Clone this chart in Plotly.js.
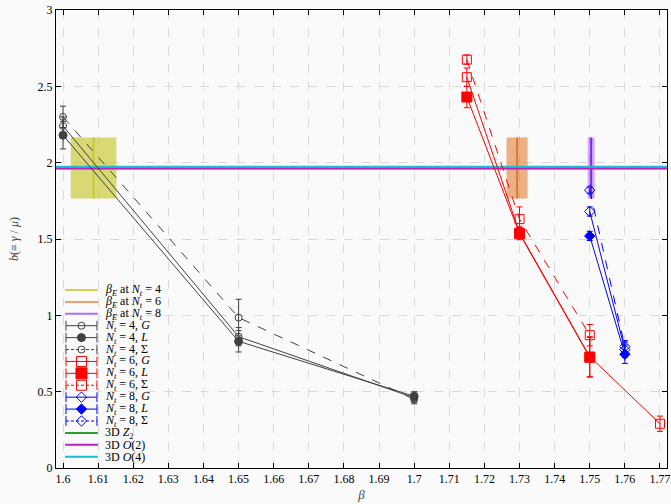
<!DOCTYPE html>
<html>
<head>
<meta charset="utf-8">
<script src="https://cdn.plot.ly/plotly-3.0.1.min.js"></script>
<style>html,body{margin:0;padding:0;background:#fafafa;}#plot{width:671px;height:504px;}</style>
</head>
<body>
<div id="plot"></div>
<script>
// ---- data ----
const beta4 = [1.60, 1.65, 1.70];
const b4G = [2.24, 0.86, 0.46];
const e4G = [0.06, 0.06, 0.03];
const b4L = [2.18, 0.83, 0.47];
const e4L = [0.09, 0.07, 0.03];
const b4S = [2.30, 0.985, 0.45];
const e4S = [0.07, 0.12, 0.03];

const beta6G = [1.715, 1.73, 1.75, 1.77];
const b6G = [2.56, 1.54, 0.73, 0.29];
const e6G = [0.06, 0.04, 0.13, 0.05];
const beta6 = [1.715, 1.73, 1.75];
const b6L = [2.43, 1.535, 0.725];
const e6L = [0.07, 0.04, 0.13];
const b6S = [2.675, 1.63, 0.87];
const e6S = [0.03, 0.08, 0.07];

const beta8 = [1.75, 1.76];
const b8G = [1.68, 0.775];
const e8G = [0.03, 0.05];
const b8L = [1.52, 0.745];
const e8L = [0.03, 0.06];
const b8S = [1.82, 0.795];
const e8S = [0.02, 0.04];

const betaE = [1.6087, 1.7293, 1.7504];
const betaEerr = [0.0065, 0.003, 0.001];
const bandLow = 1.765, bandHigh = 2.165;

const universality = [1.963, 1.962, 1.974]; // Z2, O(2), O(4)
const xRange = [1.598, 1.772];

const legendLabels = [
  '<i>β</i><sub><i>E</i></sub> at <i>N</i><sub><i>t</i></sub> = 4',
  '<i>β</i><sub><i>E</i></sub> at <i>N</i><sub><i>t</i></sub> = 6',
  '<i>β</i><sub><i>E</i></sub> at <i>N</i><sub><i>t</i></sub> = 8',
  '<i>N</i><sub><i>t</i></sub> = 4, <i>G</i>',
  '<i>N</i><sub><i>t</i></sub> = 4, <i>L</i>',
  '<i>N</i><sub><i>t</i></sub> = 4, Σ',
  '<i>N</i><sub><i>t</i></sub> = 6, <i>G</i>',
  '<i>N</i><sub><i>t</i></sub> = 6, <i>L</i>',
  '<i>N</i><sub><i>t</i></sub> = 6, Σ',
  '<i>N</i><sub><i>t</i></sub> = 8, <i>G</i>',
  '<i>N</i><sub><i>t</i></sub> = 8, <i>L</i>',
  '<i>N</i><sub><i>t</i></sub> = 8, Σ',
  '3D <i>Z</i><sub>2</sub>',
  '3D <i>O</i>(2)',
  '3D <i>O</i>(4)'
];

// ---- styles ----
const bandFill = ['rgba(195,195,35,0.62)', 'rgba(222,115,35,0.55)', 'rgba(165,95,240,0.5)'];
const bandLine = ['rgba(200,200,50,1)', 'rgba(225,120,50,1)', 'rgba(130,40,225,1)'];
const legBandLine = ['#d4d44c', '#f0a070', '#b070f0'];
const uniColor = ['#2ca02c', '#c020c0', '#17becf'];
const C4 = '#404040', C6 = '#ff0000', C8 = '#0000ff';

const traces = [];

// bands
betaE.forEach((c, i) => {
  const e = betaEerr[i];
  traces.push({x: [c - e, c + e, c + e, c - e, c - e], y: [bandLow, bandLow, bandHigh, bandHigh, bandLow],
    mode: 'lines', fill: 'toself', fillcolor: bandFill[i], line: {width: 0}, hoverinfo: 'skip', showlegend: false});
  traces.push({x: [c, c], y: [bandLow, bandHigh], mode: 'lines', line: {color: bandLine[i], width: 2}, showlegend: false});
});

// universality lines
universality.forEach((v, i) => {
  traces.push({x: xRange, y: [v, v], mode: 'lines', line: {color: uniColor[i], width: 2}, showlegend: false});
});

function series(x, y, err, color, symbol, size, dash) {
  return {x: x, y: y, mode: 'lines+markers', showlegend: false,
    line: {color: color, width: 1, dash: dash},
    marker: {symbol: symbol, size: size, color: color, line: {color: color, width: 1}},
    error_y: {type: 'data', array: err, visible: true, color: color, thickness: 1, width: 3}};
}
traces.push(series(beta4, b4G, e4G, C4, 'circle-open', 7, 'solid'));
traces.push(series(beta4, b4L, e4L, C4, 'circle', 8, 'solid'));
traces.push(series(beta4, b4S, e4S, C4, 'circle-open', 7, 'dash'));
traces.push(series(beta6G, b6G, e6G, C6, 'square-open', 9, 'solid'));
traces.push(series(beta6, b6L, e6L, C6, 'square', 10, 'solid'));
traces.push(series(beta6, b6S, e6S, C6, 'square-open', 9, 'dash'));
traces.push(series(beta8, b8G, e8G, C8, 'diamond-open', 8, 'solid'));
traces.push(series(beta8, b8L, e8L, C8, 'diamond', 8, 'solid'));
traces.push(series(beta8, b8S, e8S, C8, 'diamond-open', 8, 'dash'));

// ---- custom legend ----
const legSpec = [
  {type: 'line', color: legBandLine[0]}, {type: 'line', color: legBandLine[1]}, {type: 'line', color: legBandLine[2]},
  {type: 'err', color: C4, sym: 'circle-open', size: 7, dash: 'solid'},
  {type: 'err', color: C4, sym: 'circle', size: 8, dash: 'solid'},
  {type: 'err', color: C4, sym: 'circle-open', size: 7, dash: 'dash'},
  {type: 'err', color: C6, sym: 'square-open', size: 10, dash: 'solid'},
  {type: 'err', color: C6, sym: 'square', size: 11, dash: 'solid'},
  {type: 'err', color: C6, sym: 'square-open', size: 10, dash: 'dash'},
  {type: 'err', color: C8, sym: 'diamond-open', size: 8, dash: 'solid'},
  {type: 'err', color: C8, sym: 'diamond', size: 8, dash: 'solid'},
  {type: 'err', color: C8, sym: 'diamond-open', size: 8, dash: 'dash'},
  {type: 'line', color: uniColor[0]}, {type: 'line', color: uniColor[1]}, {type: 'line', color: uniColor[2]}
];
const annotations = [];
legSpec.forEach((s, i) => {
  if (s.type === 'line') {
    traces.push({x: [0, 1], y: [i, i], xaxis: 'x2', yaxis: 'y2', mode: 'lines', line: {color: s.color, width: 2}, showlegend: false, hoverinfo: 'skip'});
  } else {
    traces.push({x: [0.03, 0.97], y: [i, i], xaxis: 'x2', yaxis: 'y2', mode: 'lines+markers',
      line: {color: s.color, width: 1, dash: s.dash === 'dash' ? '3px,2px' : 'solid'},
      marker: {symbol: 'line-ns-open', size: 7, color: s.color, line: {color: s.color, width: 1}},
      showlegend: false, hoverinfo: 'skip'});
    traces.push({x: [0.5], y: [i], xaxis: 'x2', yaxis: 'y2', mode: 'markers',
      marker: {symbol: s.sym, size: s.size, color: s.color, line: {color: s.color, width: 1}},
      showlegend: false, hoverinfo: 'skip'});
  }
  annotations.push({x: 0.077, xref: 'paper', y: i, yref: 'y2', text: legendLabels[i], showarrow: false,
    xanchor: 'left', yanchor: 'middle', font: {family: 'Liberation Serif, serif', size: 12, color: '#000'}});
});

const axisCommon = {
  ticks: 'inside', ticklen: 5, tickcolor: '#000', mirror: 'ticks', showline: true, linecolor: '#000', linewidth: 1,
  showgrid: true, gridcolor: '#d9d9d9', griddash: 'dash', gridwidth: 1, zeroline: false,
  tickfont: {family: 'Liberation Serif, serif', size: 12, color: '#000'}
};

const layout = {
  width: 671, height: 504,
  margin: {l: 56, r: 4, t: 10, b: 36},
  paper_bgcolor: '#fafafa', plot_bgcolor: '#fafafa',
  showlegend: false,
  xaxis: Object.assign({}, axisCommon, {range: xRange, tick0: 1.6, dtick: 0.01,
    title: {text: '<i>β</i>', font: {family: 'Liberation Serif, serif', size: 13}, standoff: 4}}),
  yaxis: Object.assign({}, axisCommon, {range: [0, 3], tick0: 0, dtick: 0.5,
    title: {text: '<i>b</i>(≡ <i>γ</i> / <i>μ</i>)', font: {family: 'Liberation Serif, serif', size: 12}, standoff: 16}}),
  xaxis2: {domain: [0.0147, 0.0687], range: [0, 1], visible: false, anchor: 'y2', fixedrange: true},
  yaxis2: {domain: [0.0116, 0.4017], range: [14.5, -0.5], visible: false, anchor: 'x2', fixedrange: true},
  annotations: annotations
};

Plotly.newPlot('plot', traces, layout, {displayModeBar: false, staticPlot: true});
</script>
</body>
</html>
